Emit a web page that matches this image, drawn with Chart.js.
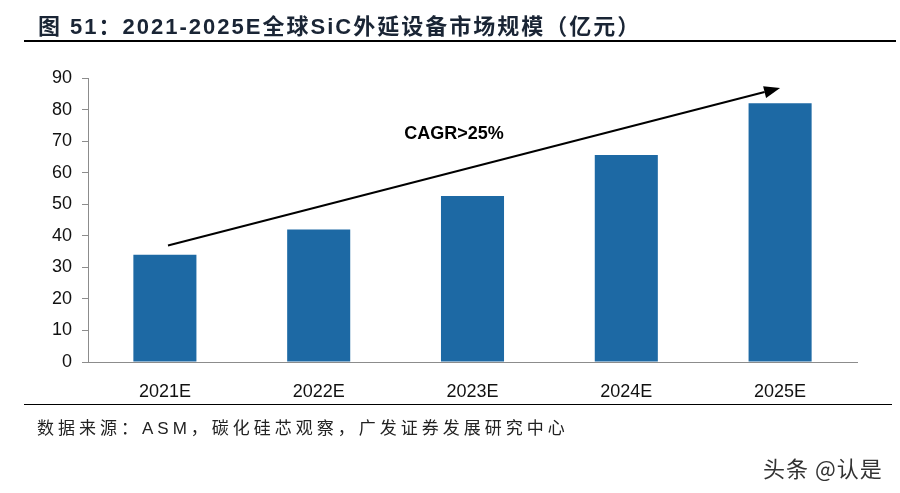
<!DOCTYPE html>
<html>
<head>
<meta charset="utf-8">
<script src="https://cdn.jsdelivr.net/npm/chart.js@4"></script>
<style>
  html, body { margin: 0; padding: 0; background: #fff; }
  #wrap { position: relative; width: 900px; height: 493px; overflow: hidden; }
  #chart { position: absolute; left: 0; top: 0; }
  .txt { position: absolute; white-space: nowrap; }
  #title { left: 38px; top: 8px; font: bold 22px "Liberation Sans", Arial, "Noto Sans CJK SC", sans-serif; color: #1a2535; letter-spacing: 2px; }
  #line1 { position: absolute; left: 24px; width: 872px; top: 40px; height: 2px; background: #000; }
  #line2 { position: absolute; left: 24px; width: 868px; top: 404px; height: 1px; background: #000; }
  #source { left: 37px; top: 414px; font: 17px "Liberation Sans", Arial, "Noto Sans CJK SC", sans-serif; color: #222; letter-spacing: 4px; }
  #mark { left: 763px; top: 451px; font: 22px "Noto Sans CJK SC", sans-serif; color: #333; letter-spacing: 1px; text-shadow: 0 0 2px #fff; }
</style>
</head>
<body>
<div id="wrap">
  <canvas id="chart" width="900" height="493"></canvas>
  <div id="title" class="txt">图 51：2021-2025E全球SiC外延设备市场规模（亿元）</div>
  <div id="line1"></div>
  <div id="line2"></div>
  <div id="source" class="txt">数据来源：ASM，碳化硅芯观察，广发证券发展研究中心</div>
  <div id="mark" class="txt">头条 @认是</div>
</div>
<script>
var categorias = ["2021E", "2022E", "2023E", "2024E", "2025E"];
var mercado = [34, 42, 52.6, 65.6, 82];
var ticks_y = [0, 10, 20, 30, 40, 50, 60, 70, 80, 90];

var fuente = '"Liberation Sans", Arial, sans-serif';

// flecha CAGR dibujada sobre las escalas
var flecha = {
  id: "flecha",
  afterDatasetsDraw: function (chart) {
    var ctx = chart.ctx;
    var x = chart.scales.x;
    var y = chart.scales.y;
    var x1 = x.getPixelForValue(0.02), y1 = y.getPixelForValue(36.9);
    var x2 = x.getPixelForValue(4.0), y2 = y.getPixelForValue(86.8);
    var ang = Math.atan2(y2 - y1, x2 - x1);
    var largo = 16, ancho = 6;

    ctx.save();
    ctx.strokeStyle = "#000";
    ctx.lineWidth = 2;
    ctx.beginPath();
    ctx.moveTo(x1, y1);
    ctx.lineTo(x2 - largo * Math.cos(ang), y2 - largo * Math.sin(ang));
    ctx.stroke();

    ctx.fillStyle = "#000";
    ctx.beginPath();
    ctx.moveTo(x2, y2);
    ctx.lineTo(x2 - largo * Math.cos(ang) + ancho * Math.sin(ang), y2 - largo * Math.sin(ang) - ancho * Math.cos(ang));
    ctx.lineTo(x2 - largo * Math.cos(ang) - ancho * Math.sin(ang), y2 - largo * Math.sin(ang) + ancho * Math.cos(ang));
    ctx.closePath();
    ctx.fill();

    ctx.font = "bold 18px " + fuente;
    ctx.textAlign = "center";
    ctx.textBaseline = "middle";
    ctx.fillText("CAGR>25%", x.getPixelForValue(1.88), y.getPixelForValue(72.3));
    ctx.restore();
  },
};

var ctx = document.getElementById("chart").getContext("2d");

var myChart = new Chart(ctx, {
  type: "bar",
  data: {
    labels: categorias,
    datasets: [
      {
        label: "市场规模",
        data: mercado,
        backgroundColor: "#1d69a4",
        borderWidth: 0,
        barPercentage: 0.41,
        categoryPercentage: 1,
      },
    ],
  },
  options: {
    responsive: false,
    animation: false,
    layout: {
      padding: { left: 0, right: 43, top: 78, bottom: 0 },
    },
    scales: {
      x: {
        grid: { display: false },
        border: { display: true, color: "#8c8c8c", width: 1 },
        ticks: {
          color: "#111",
          padding: 11,
          font: { family: fuente, size: 18 },
        },
        afterFit: function (scale) {
          scale.height = 131;
        },
      },
      y: {
        min: 0,
        max: 90,
        afterBuildTicks: function (scale) {
          scale.ticks = ticks_y.map(function (v) { return { value: v }; });
        },
        grid: {
          drawOnChartArea: false,
          drawTicks: true,
          tickLength: 6,
          tickColor: "#8c8c8c",
        },
        border: { display: true, color: "#8c8c8c", width: 1 },
        ticks: {
          color: "#111",
          padding: 10,
          font: { family: fuente, size: 18 },
        },
        afterFit: function (scale) {
          scale.width = 88;
        },
      },
    },
    plugins: {
      legend: { display: false },
      tooltip: { enabled: false },
      title: { display: false },
    },
  },
  plugins: [flecha],
});
</script>
</body>
</html>
